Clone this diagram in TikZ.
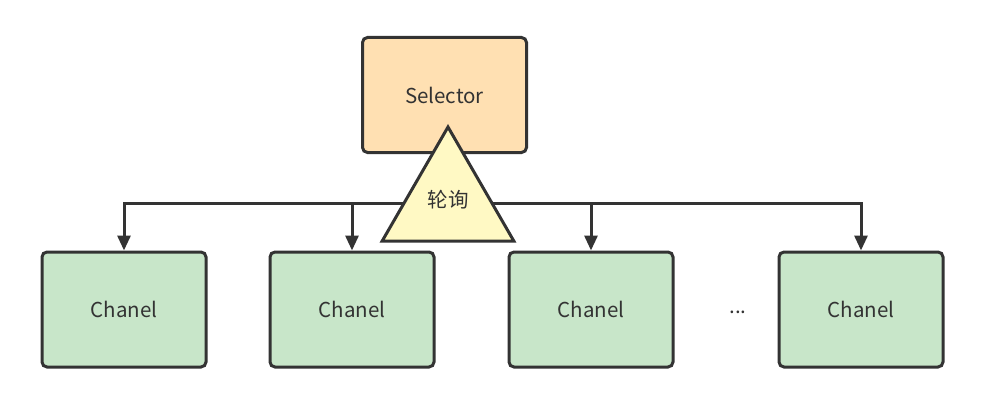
\documentclass[tikz,border=0pt]{standalone}
\usepackage{fontspec}
\setmainfont{Noto Sans CJK SC}
\usepackage{xcolor}
\usetikzlibrary{arrows.meta,shapes.geometric,backgrounds}

\definecolor{selfill}{RGB}{255,224,178}
\definecolor{chfill}{RGB}{200,230,201}
\definecolor{trifill}{RGB}{255,249,196}
\definecolor{edge}{RGB}{51,51,51}

\begin{document}
\begin{tikzpicture}[x=1pt,y=1pt,yscale=-1,
  box/.style={draw=edge,line width=3pt,rounded corners=5pt,minimum width=164pt,minimum height=115pt,inner sep=0pt,text=edge,font=\fontsize{20.5}{24}\selectfont},
  link/.style={draw=edge,line width=3pt,-{Triangle[length=15pt,width=13pt]}}]
\useasboundingbox (0,0) rectangle (982,401);

% Selector
\node[box,fill=selfill] (sel) at (444.5,95) {Selector};

% Channels
\node[box,fill=chfill] (ch1) at (124,309.5) {Chanel};
\node[box,fill=chfill] (ch2) at (352,309.5) {Chanel};
\node[box,fill=chfill] (ch3) at (591,309.5) {Chanel};
\node[box,fill=chfill] (ch4) at (861,309.5) {Chanel};
\node[text=edge,font=\fontsize{20.5}{24}\selectfont] (dots) at (738,312) {...};

% polling triangle
\node[regular polygon,regular polygon sides=3,draw=edge,fill=trifill,line width=3pt,minimum size=152pt,inner sep=0pt] (poll) at (448,203) {};
\node[text=edge,font=\fontsize{20.5}{24}\selectfont] (polltxt) at (448,200) {轮询};

% links
\begin{scope}[on background layer]
\foreach \c in {ch1,ch2,ch3,ch4}
  \draw[link] (poll.center) -| (\c.north);
\end{scope}

\end{tikzpicture}
\end{document}
